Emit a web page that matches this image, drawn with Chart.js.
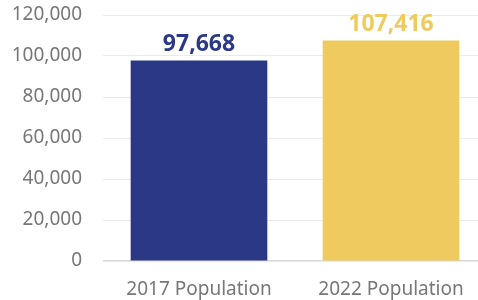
<!DOCTYPE html>
<html>
<head>
<meta charset="utf-8">
<script src="https://cdn.jsdelivr.net/npm/chart.js@4/dist/chart.umd.min.js"></script>
<style>
  html, body { margin: 0; padding: 0; background: #fff; }
  #wrap { width: 478px; height: 300px; }
</style>
</head>
<body>
<div id="wrap"><canvas id="c" width="478" height="300"></canvas></div>
<script>
const categories = ["2017 Population", "2022 Population"];
const populationValues = [97668, 107416];
const barColors = ["#2b3886", "#efcb5f"];
const yTicks = [0, 20000, 40000, 60000, 80000, 100000, 120000];

const fmt = v => v.toLocaleString("en-US");

const valueLabels = {
  id: "valueLabels",
  afterDatasetsDraw(chart) {
    const ctx = chart.ctx;
    const meta = chart.getDatasetMeta(0);
    ctx.save();
    ctx.font = "bold 23px 'Noto Sans'";
    ctx.textAlign = "center";
    ctx.textBaseline = "alphabetic";
    meta.data.forEach((el, i) => {
      ctx.fillStyle = barColors[i];
      ctx.fillText(fmt(populationValues[i]), el.x, el.y - 10);
    });
    ctx.restore();
  }
};

// The plot area runs slightly past the right edge of the picture.
const extendRight = {
  id: "extendRight",
  afterLayout(chart) {
    const extra = 9;
    const x = chart.scales.x;
    x.right += extra;
    x.width += extra;
    x.configure();
    chart.chartArea.right += extra;
    chart.chartArea.width += extra;
  }
};

new Chart(document.getElementById("c"), {
  type: "bar",
  data: {
    labels: categories,
    datasets: [{
      data: populationValues,
      backgroundColor: barColors,
      barThickness: 136,
      borderWidth: 0
    }]
  },
  options: {
    responsive: false,
    animation: false,
    events: [],
    layout: { padding: { left: 12, right: 0, top: 15, bottom: 0 } },
    plugins: { legend: { display: false }, tooltip: { enabled: false } },
    scales: {
      x: {
        afterFit: (s) => { s.height = 39; s.paddingLeft = 0; s.paddingRight = 0; s.paddingTop = 0; s.paddingBottom = 0; },
        ticks: {
          color: "#777",
          font: { family: "'Noto Sans'", size: 19 },
          padding: 17,
          maxRotation: 0,
          autoSkip: false
        },
        grid: { display: false, drawTicks: false },
        border: { display: false }
      },
      y: {
        min: 0,
        max: 120000,
        afterBuildTicks: (axis) => { axis.ticks = yTicks.map(v => ({ value: v })); },
        afterFit: (s) => { s.width = 91; s.paddingTop = 0; s.paddingBottom = 0; s.paddingLeft = 0; s.paddingRight = 0; },
        ticks: {
          callback: (v) => fmt(v),
          color: "#777",
          font: { family: "'Noto Sans'", size: 19 },
          padding: 21
        },
        grid: {
          drawTicks: false,
          color: (ctx) => (ctx.tick && ctx.tick.value === 0) ? "#d6d6d6" : "#ebebeb",
          lineWidth: (ctx) => (ctx.tick && ctx.tick.value === 0) ? 1.5 : 1
        },
        border: { display: false }
      }
    }
  },
  plugins: [valueLabels, extendRight]
});
</script>
</body>
</html>
